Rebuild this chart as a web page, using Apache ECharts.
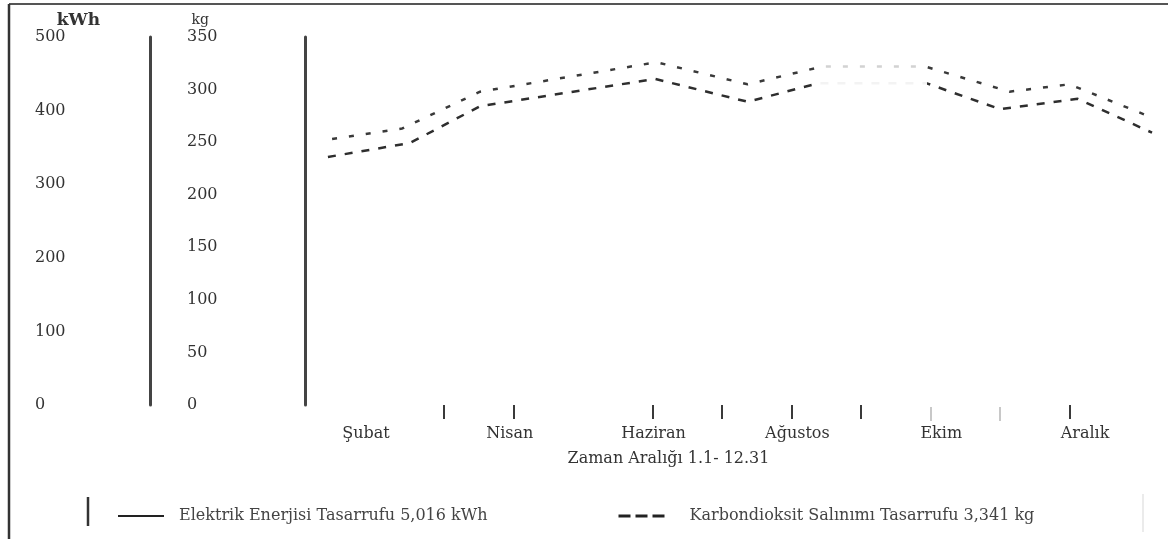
<!DOCTYPE html>
<html>
<head>
<meta charset="utf-8">
<script src="https://cdn.jsdelivr.net/npm/echarts@6/dist/echarts.min.js"></script>
<style>
  html, body { margin: 0; padding: 0; background: #fff; }
  #chart { width: 1168px; height: 539px; }
</style>
</head>
<body>
<div id="chart"></div>
<script>
// Monthly savings over the year (x measured in months from 1 January)
const monthLabels = ['Şubat', 'Nisan', 'Haziran', 'Ağustos', 'Ekim', 'Aralık'];

const elecName = 'Elektrik Enerjisi Tasarrufu 5,016 kWh';
const elecX = [0.33, 1.51, 2.52, 5.04, 6.37, 7.38, 8.95, 10.0, 11.12, 12.19];
const elecKWh = [337, 356, 406, 443, 412, 437, 437, 402, 416, 370];

const co2Name = 'Karbondioksit Salınımı Tasarrufu 3,341 kg';
const co2X = [0.39, 1.40, 2.52, 5.06, 6.37, 7.45, 8.92, 10.14, 11.0, 12.13];
const co2Kg = [253, 263, 298, 326, 305, 322, 322, 298, 305, 275];

// Axis scales
const kwhMax = 500, kwhStep = 100;
const kgMax = 350, kgStep = 50;
const monthMax = 12.42;
const darkTicks = [2, 3, 5, 6, 7, 8, 11];
const faintTicks = [9, 10];

const serif = 'DejaVu Serif';
const ink = '#333';

function pairs(xs, ys) { return xs.map((x, i) => [x, ys[i]]); }

const chart = echarts.init(document.getElementById('chart'), null, { renderer: 'canvas' });

const tickAxis = (values, color) => ({
  type: 'value', min: 0, max: monthMax, position: 'bottom', offset: 2,
  axisLine: { show: false },
  splitLine: { show: false },
  axisLabel: { show: false },
  axisTick: { show: true, length: 14, customValues: values, lineStyle: { color: color, width: 2 } }
});

chart.setOption({
  animation: false,
  backgroundColor: '#fff',
  color: ['#2e2e2e', '#3a3a3a'],
  grid: { left: 305, top: 37, right: 0, bottom: 134, containLabel: false },
  xAxis: [
    tickAxis(darkTicks, '#3a3a3a'),
    {
      type: 'category', data: monthLabels, boundaryGap: true, position: 'bottom',
      axisLine: { show: false }, axisTick: { show: false }, splitLine: { show: false },
      axisLabel: { margin: 21, fontFamily: serif, fontSize: 16, color: ink, padding: [0, 22, 0, 0] },
      name: 'Zaman Aralığı 1.1- 12.31', nameLocation: 'middle', nameGap: 46,
      nameTextStyle: { fontFamily: serif, fontSize: 16, color: ink, padding: [0, 136, 0, 0] }
    },
    tickAxis(faintTicks, '#c8c8c8')
  ],
  yAxis: [
    {
      type: 'value', min: 0, max: kwhMax, interval: kwhStep, position: 'left', offset: 155,
      name: 'kWh', nameLocation: 'end', nameGap: 8,
      nameTextStyle: { fontFamily: serif, fontSize: 17, fontWeight: 'bold', color: ink, align: 'right', padding: [0, 50, 0, 0] },
      axisLine: { show: true, onZero: false, lineStyle: { color: '#444', width: 3 } },
      axisTick: { show: false }, splitLine: { show: false },
      axisLabel: { margin: 115, align: 'left', fontFamily: serif, fontSize: 16, color: ink }
    },
    {
      type: 'value', min: 0, max: kgMax, interval: kgStep, position: 'left', offset: 0,
      name: 'kg', nameLocation: 'end', nameGap: 10,
      nameTextStyle: { fontFamily: serif, fontSize: 14, color: ink, align: 'right', padding: [0, 96, 0, 0] },
      axisLine: { show: true, onZero: false, lineStyle: { color: '#444', width: 3 } },
      axisTick: { show: false }, splitLine: { show: false },
      axisLabel: { margin: 118, align: 'left', fontFamily: serif, fontSize: 16, color: ink }
    }
  ],
  visualMap: [
    {
      show: false, type: 'piecewise', seriesIndex: 0, dimension: 0,
      pieces: [
        { lt: elecX[5], color: '#2e2e2e' },
        { gte: elecX[5], lte: elecX[6], color: '#f3f3f3' },
        { gt: elecX[6], color: '#2e2e2e' }
      ]
    },
    {
      show: false, type: 'piecewise', seriesIndex: 1, dimension: 0,
      pieces: [
        { lt: co2X[5], color: '#3a3a3a' },
        { gte: co2X[5], lte: co2X[6], color: '#d2d2d2' },
        { gt: co2X[6], color: '#3a3a3a' }
      ]
    }
  ],
  legend: [
    {
      left: 112, top: 503, itemWidth: 46, itemHeight: 14,
      textStyle: { fontFamily: serif, fontSize: 16, color: '#444', padding: [0, 0, 0, 10] },
      data: [{ name: elecName, itemStyle: { opacity: 0 }, lineStyle: { type: 'solid', width: 2, color: '#222' } }]
    },
    {
      left: 612, top: 503, itemWidth: 48, itemHeight: 14,
      textStyle: { fontFamily: serif, fontSize: 16, color: '#444', padding: [0, 0, 0, 18] },
      data: [{ name: co2Name, itemStyle: { opacity: 0 }, lineStyle: { type: [12, 5], width: 3, color: '#222' } }]
    }
  ],
  series: [
    {
      name: elecName, type: 'line', xAxisIndex: 0, yAxisIndex: 0,
      data: pairs(elecX, elecKWh),
      symbol: 'none', smooth: false,
      lineStyle: { width: 2.5, type: [8, 9] }
    },
    {
      name: co2Name, type: 'line', xAxisIndex: 0, yAxisIndex: 1,
      data: pairs(co2X, co2Kg),
      symbol: 'none', smooth: false,
      lineStyle: { width: 2.5, type: [5, 12] }
    }
  ],
  graphic: [
    // page frame: top and left rules
    { type: 'line', shape: { x1: 9, y1: 4, x2: 1168, y2: 4 }, style: { stroke: '#555', lineWidth: 2 } },
    { type: 'line', shape: { x1: 9, y1: 4, x2: 9, y2: 539 }, style: { stroke: '#333', lineWidth: 2.5 } },
    // separators in the legend row
    { type: 'line', shape: { x1: 88, y1: 497, x2: 88, y2: 526 }, style: { stroke: '#333', lineWidth: 2.5 } },
    { type: 'line', shape: { x1: 1143, y1: 494, x2: 1143, y2: 532 }, style: { stroke: '#e4e4e4', lineWidth: 1.5 } }
  ]
});
</script>
</body>
</html>
